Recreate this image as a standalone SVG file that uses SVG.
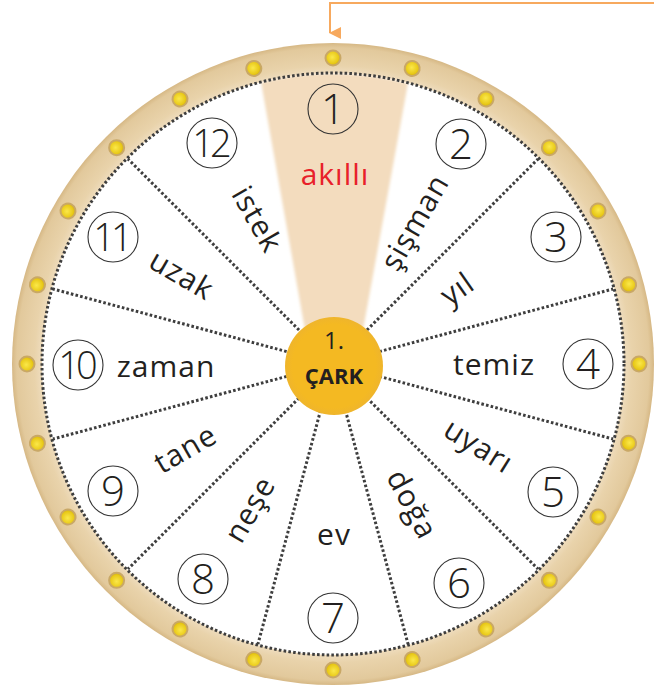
<svg xmlns="http://www.w3.org/2000/svg" width="654" height="694" viewBox="0 0 654 694">
<style>
.spoke{stroke:#3e3e3e;stroke-width:3;stroke-dasharray:2.6 2.2;fill:none}
.num{font-family:"Open Sans","Liberation Sans",sans-serif;font-weight:300;font-size:42px;fill:#231f20;text-anchor:middle}
.num2{font-size:38px;letter-spacing:-4px}
.ring{fill:none;stroke:#333;stroke-width:1.1}
.word{font-family:"Open Sans","Liberation Sans",sans-serif;font-size:30px;font-weight:500;fill:#231f20;text-anchor:middle;letter-spacing:1px}
.hub{font-family:"Open Sans","Liberation Sans",sans-serif;fill:#231f20;text-anchor:middle}
</style>
<defs>
<radialGradient id="band" gradientUnits="userSpaceOnUse" cx="333" cy="364" r="321">
<stop offset="0.9" stop-color="#f0dfc3"/>
<stop offset="0.93" stop-color="#e9d3ab"/>
<stop offset="0.985" stop-color="#e2c99c"/>
<stop offset="1" stop-color="#d6b885"/>
</radialGradient>
<radialGradient id="bolt" cx="0.45" cy="0.45" r="0.6">
<stop offset="0" stop-color="#fbe84a"/>
<stop offset="0.7" stop-color="#e8c817"/>
<stop offset="1" stop-color="#c9a60f"/>
</radialGradient>
<radialGradient id="hubg" cx="0.5" cy="0.5" r="0.5">
<stop offset="0.85" stop-color="#f4b922"/>
<stop offset="1" stop-color="#efb52c"/>
</radialGradient>
<filter id="soft" x="-10%" y="-10%" width="120%" height="120%"><feGaussianBlur stdDeviation="1.5"/></filter>
<circle id="b" cx="333" cy="58" r="7.5" fill="url(#bolt)" stroke="#c9a866" stroke-width="2"/>
<marker id="ah" viewBox="0 0 12 12" refX="6" refY="11" markerWidth="12" markerHeight="12" markerUnits="userSpaceOnUse" orient="auto-start-reverse"><path d="M0,0 L12,0 L6,12 Z" fill="#f7a95e"/></marker>
</defs>
<rect width="654" height="694" fill="#ffffff"/>

<g id="wheel">
<circle cx="333" cy="364" r="321" fill="url(#band)"/>
<circle cx="333" cy="364" r="291" fill="#ffffff"/>
<path d="M261,82 A291,291 0 0 1 408,83 L363,330 L305,330 Z" fill="#f3dcbe" filter="url(#soft)"/>
<g id="bolts">
<use href="#b"/><use href="#b" transform="rotate(15 333 364)"/><use href="#b" transform="rotate(30 333 364)"/><use href="#b" transform="rotate(45 333 364)"/>
<use href="#b" transform="rotate(60 333 364)"/><use href="#b" transform="rotate(75 333 364)"/><use href="#b" transform="rotate(90 333 364)"/><use href="#b" transform="rotate(105 333 364)"/>
<use href="#b" transform="rotate(120 333 364)"/><use href="#b" transform="rotate(135 333 364)"/><use href="#b" transform="rotate(150 333 364)"/><use href="#b" transform="rotate(165 333 364)"/>
<use href="#b" transform="rotate(180 333 364)"/><use href="#b" transform="rotate(195 333 364)"/><use href="#b" transform="rotate(210 333 364)"/><use href="#b" transform="rotate(225 333 364)"/>
<use href="#b" transform="rotate(240 333 364)"/><use href="#b" transform="rotate(255 333 364)"/><use href="#b" transform="rotate(270 333 364)"/><use href="#b" transform="rotate(285 333 364)"/>
<use href="#b" transform="rotate(300 333 364)"/><use href="#b" transform="rotate(315 333 364)"/><use href="#b" transform="rotate(330 333 364)"/><use href="#b" transform="rotate(345 333 364)"/>
</g>
<circle class="spoke" cx="333" cy="364" r="291"/>
</g>

<g id="connectors">
<line class="spoke" x1="333" y1="316" x2="333" y2="74" transform="rotate(45 333 364)"/>
<line class="spoke" x1="333" y1="316" x2="333" y2="74" transform="rotate(75 333 364)"/>
<line class="spoke" x1="333" y1="316" x2="333" y2="74" transform="rotate(105 333 364)"/>
<line class="spoke" x1="333" y1="316" x2="333" y2="74" transform="rotate(135 333 364)"/>
<line class="spoke" x1="333" y1="316" x2="333" y2="74" transform="rotate(165 333 364)"/>
<line class="spoke" x1="333" y1="316" x2="333" y2="74" transform="rotate(195 333 364)"/>
<line class="spoke" x1="333" y1="316" x2="333" y2="74" transform="rotate(225 333 364)"/>
<line class="spoke" x1="333" y1="316" x2="333" y2="74" transform="rotate(255 333 364)"/>
<line class="spoke" x1="333" y1="316" x2="333" y2="74" transform="rotate(285 333 364)"/>
<line class="spoke" x1="333" y1="316" x2="333" y2="74" transform="rotate(315 333 364)"/>
<path d="M654,3 H330 V33" fill="none" stroke="#f7a95e" stroke-width="2" marker-end="url(#ah)"/>
</g>

<g id="hub">
<circle cx="334" cy="366" r="49" fill="url(#hubg)"/>
<text class="hub" x="334" y="349" font-size="24">1.</text>
<text class="hub" x="334" y="384" font-size="22" font-weight="700">ÇARK</text>
</g>

<g id="s1"><circle class="ring" cx="333" cy="109" r="25"/><text class="num" x="333" y="124">1</text>
<text class="word" x="335" y="185" style="fill:#e8202a">akıllı</text></g>
<g id="s2"><circle class="ring" cx="461" cy="144" r="25"/><text class="num" x="461" y="159">2</text>
<text class="word" transform="translate(416,223) rotate(-60)" x="0" y="9">şişman</text></g>
<g id="s3"><circle class="ring" cx="556" cy="237" r="25"/><text class="num" x="556" y="252">3</text>
<text class="word" transform="translate(458,290) rotate(-35)" x="0" y="9">yıl</text></g>
<g id="s4"><circle class="ring" cx="588" cy="364" r="25"/><text class="num" x="588" y="379">4</text>
<text class="word" x="494" y="375">temiz</text></g>
<g id="s5"><circle class="ring" cx="553" cy="492" r="25"/><text class="num" x="553" y="507">5</text>
<text class="word" transform="translate(478,447) rotate(32)" x="0" y="9">uyarı</text></g>
<g id="s6"><circle class="ring" cx="459" cy="583" r="25"/><text class="num" x="459" y="598">6</text>
<text class="word" transform="translate(411,505) rotate(62)" x="0" y="9">doğa</text></g>
<g id="s7"><circle class="ring" cx="333" cy="618" r="25"/><text class="num" x="333" y="633">7</text>
<text class="word" x="334" y="545">ev</text></g>
<g id="s8"><circle class="ring" cx="203" cy="579" r="25"/><text class="num" x="203" y="594">8</text>
<text class="word" transform="translate(251,510) rotate(-60)" x="0" y="9">neşe</text></g>
<g id="s9"><circle class="ring" cx="113" cy="491" r="25"/><text class="num" x="113" y="506">9</text>
<text class="word" transform="translate(186,450) rotate(-30)" x="0" y="9">tane</text></g>
<g id="s10"><circle class="ring" cx="78" cy="365" r="25"/><text class="num num2" x="76" y="379">10</text>
<text class="word" x="166" y="377">zaman</text></g>
<g id="s11"><circle class="ring" cx="113" cy="237" r="25"/><text class="num num2" x="111" y="251">11</text>
<text class="word" transform="translate(181,276) rotate(30)" x="0" y="9">uzak</text></g>
<g id="s12"><circle class="ring" cx="212" cy="143" r="25"/><text class="num num2" x="210" y="157">12</text>
<text class="word" transform="translate(256,220) rotate(60)" x="0" y="9">istek</text></g>
</svg>
